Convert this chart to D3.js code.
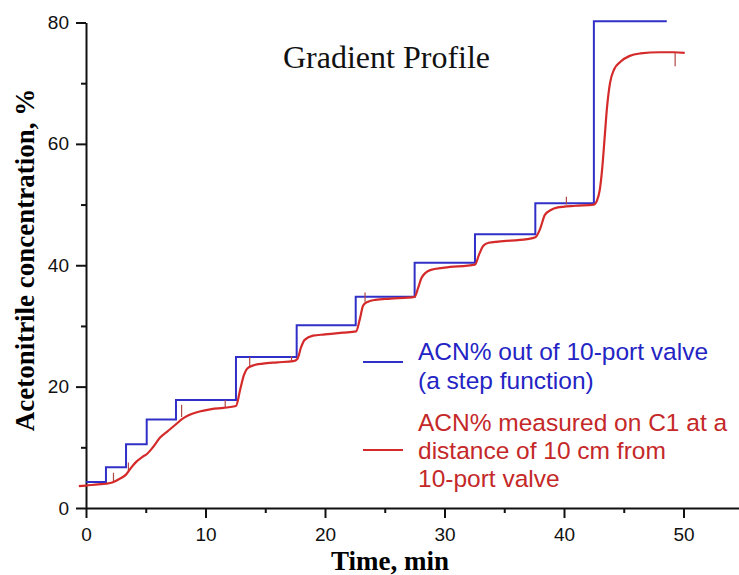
<!DOCTYPE html>
<html lang="en">
<head>
  <meta charset="utf-8">
  <script src="https://d3js.org/d3.v7.min.js"></script>
  <style>
    body { margin: 0; background: #fff; }
  </style>
</head>
<body>
  <div id="chart"></div>
  <script>
  const width = 739
  const height = 575

  // blue step function (valve output), level holds until next time
  const stepTime  = [0, 1.67, 3.35, 5.08, 7.53, 12.55, 17.63, 22.57, 27.5, 32.55, 37.6, 42.5, 48.6]
  const stepLevel = [4.3, 6.7, 10.5, 14.6, 17.8, 24.9, 30.1, 34.8, 40.4, 45.1, 50.2, 80.2, 80.2]

  // red measured curve on C1
  const measTime  = [-0.6, 0, 1.0, 1.67, 2.2, 2.8, 3.35, 3.8, 4.2, 4.7, 5.1, 5.6, 6.2, 6.8, 7.53, 8.0, 8.5, 9.5, 10.5, 11.5, 12.55,
                     12.9, 13.2, 13.5, 14.0, 14.8, 16.0, 17.35, 17.7, 18.0, 18.3, 19.0, 20.0, 21.5, 22.6,
                     22.9, 23.2, 23.6, 24.2, 25.5, 27.5, 27.8, 28.1, 28.8, 30.0, 32.55,
                     32.9, 33.25, 33.7, 34.5, 36.9, 37.6, 38.0, 38.4, 38.9, 39.4, 41.0, 42.5,
                     42.75, 43.0, 43.2, 43.4, 43.6, 43.85, 44.2, 44.7, 45.5, 46.4, 48.0, 49.2, 50.1]
  const measValue = [3.6, 3.7, 3.9, 4.0, 4.2, 4.8, 5.5, 6.7, 7.6, 8.4, 8.9, 10.0, 11.6, 12.6, 13.8, 14.6, 15.2, 15.9, 16.3, 16.5, 16.8,
                     19.5, 21.8, 23.0, 23.5, 23.8, 24.0, 24.2, 24.6, 26.5, 27.7, 28.4, 28.6, 28.9, 29.1,
                     31.0, 33.4, 34.0, 34.3, 34.5, 34.8, 36.3, 38.0, 39.2, 39.6, 40.1,
                     41.8, 43.2, 43.7, 43.9, 44.3, 44.6, 46.0, 48.3, 49.1, 49.5, 49.8, 50.0,
                     50.6, 52.5, 56.0, 61.0, 66.0, 70.0, 72.3, 73.5, 74.5, 74.9, 75.1, 75.1, 75.0]

  // small noise spikes on the measured trace
  const spikeTime = [2.3, 3.55, 8.0, 11.65, 13.7, 17.2, 23.35, 40.2, 49.3]
  const spikeFrom = [4.3, 6.0, 15.0, 16.6, 23.3, 24.1, 34.0, 50.0, 75.1]
  const spikeTo   = [5.8, 7.5, 17.0, 17.8, 24.9, 25.0, 35.5, 51.3, 72.8]

  const xTicks = [0, 10, 20, 30, 40, 50]
  const xMinor = [5, 15, 25, 35, 45]
  const yTicks = [0, 20, 40, 60, 80]
  const yMinor = [10, 30, 50, 70]

  const legendBlue = ["ACN% out of 10-port valve", "(a step function)"]
  const legendRed  = ["ACN% measured on C1 at a", "distance of 10 cm from", "10-port valve"]

  const blue = "#3030c8"
  const red = "#d42a2a"

  const x = d3.scaleLinear().domain([0, 55]).range([86, 86 + 55 * 11.95])
  const y = d3.scaleLinear().domain([0, 80]).range([508, 22.5])

  const svg = d3.select("#chart").append("svg")
      .attr("width", width)
      .attr("height", height)
      .style("font-family", "'Liberation Sans', Arial, sans-serif")

  ////////////////////////// Axes //////////////////////////

  const xAxis = svg.append("g")
      .attr("transform", `translate(0,${y(0)})`)
      .call(d3.axisBottom(x).tickValues(xTicks).tickSize(10).tickSizeOuter(0).tickPadding(10))
  xAxis.selectAll("text").style("font-size", "19px").attr("fill", "#111")

  svg.append("g")
      .attr("transform", `translate(0,${y(0)})`)
      .call(d3.axisBottom(x).tickValues(xMinor).tickSize(5).tickFormat(""))
      .call(g => g.select(".domain").remove())

  const yAxis = svg.append("g")
      .attr("transform", `translate(${x(0)},0)`)
      .call(d3.axisLeft(y).tickValues(yTicks).tickSize(10).tickSizeOuter(0).tickPadding(7))
  yAxis.selectAll("text").style("font-size", "19px").attr("fill", "#111")

  svg.append("g")
      .attr("transform", `translate(${x(0)},0)`)
      .call(d3.axisLeft(y).tickValues(yMinor).tickSize(5).tickFormat(""))
      .call(g => g.select(".domain").remove())

  svg.selectAll(".domain, .tick line").attr("stroke", "#111").attr("stroke-width", 2)

  // axis titles
  svg.append("text")
      .attr("transform", `translate(34,${(88 + 432) / 2}) rotate(-90)`)
      .attr("text-anchor", "middle")
      .style("font-family", "'Liberation Serif', 'Times New Roman', serif")
      .style("font-weight", "bold")
      .style("font-size", "27px")
      .text("Acetonitrile concentration, %")

  svg.append("text")
      .attr("x", 390)
      .attr("y", 570)
      .attr("text-anchor", "middle")
      .style("font-family", "'Liberation Serif', 'Times New Roman', serif")
      .style("font-weight", "bold")
      .style("font-size", "27px")
      .text("Time, min")

  svg.append("text")
      .attr("x", 283)
      .attr("y", 68)
      .style("font-family", "'Liberation Serif', 'Times New Roman', serif")
      .style("font-size", "32px")
      .attr("fill", "#111")
      .text("Gradient Profile")

  ////////////////////////// Lines //////////////////////////

  const stepData = stepTime.map((t, i) => ({t: t, v: stepLevel[i]}))
  const measData = measTime.map((t, i) => ({t: t, v: measValue[i]}))

  const stepLine = d3.line()
      .x(d => x(d.t))
      .y(d => y(d.v))
      .curve(d3.curveStepAfter)

  const measLine = d3.line()
      .x(d => x(d.t))
      .y(d => y(d.v))
      .curve(d3.curveMonotoneX)

  svg.append("path")
      .datum(stepData)
      .attr("d", stepLine)
      .attr("fill", "none")
      .attr("stroke", blue)
      .attr("stroke-width", 2)

  svg.selectAll(".spike")
      .data(spikeTime)
      .enter().append("line")
      .attr("class", "spike")
      .attr("x1", d => x(d))
      .attr("x2", d => x(d))
      .attr("y1", (d, i) => y(spikeFrom[i]))
      .attr("y2", (d, i) => y(spikeTo[i]))
      .attr("stroke", "#b04848")
      .attr("stroke-width", 1.2)

  svg.append("path")
      .datum(measData)
      .attr("d", measLine)
      .attr("fill", "none")
      .attr("stroke", red)
      .attr("stroke-width", 2.2)

  ////////////////////////// Legend //////////////////////////

  const legend = svg.append("g").style("font-size", "24.5px")

  legend.append("line")
      .attr("x1", 363).attr("x2", 403)
      .attr("y1", 362).attr("y2", 362)
      .attr("stroke", blue).attr("stroke-width", 2)

  legend.selectAll(".lb")
      .data(legendBlue)
      .enter().append("text")
      .attr("class", "lb")
      .attr("x", 418)
      .attr("y", (d, i) => 360 + i * 29)
      .attr("fill", "#2424c4")
      .text(d => d)

  legend.append("line")
      .attr("x1", 363).attr("x2", 403)
      .attr("y1", 450).attr("y2", 450)
      .attr("stroke", red).attr("stroke-width", 2)

  legend.selectAll(".lr")
      .data(legendRed)
      .enter().append("text")
      .attr("class", "lr")
      .attr("x", 418)
      .attr("y", (d, i) => 431 + i * 28)
      .attr("fill", "#c42828")
      .text(d => d)
  </script>
</body>
</html>
